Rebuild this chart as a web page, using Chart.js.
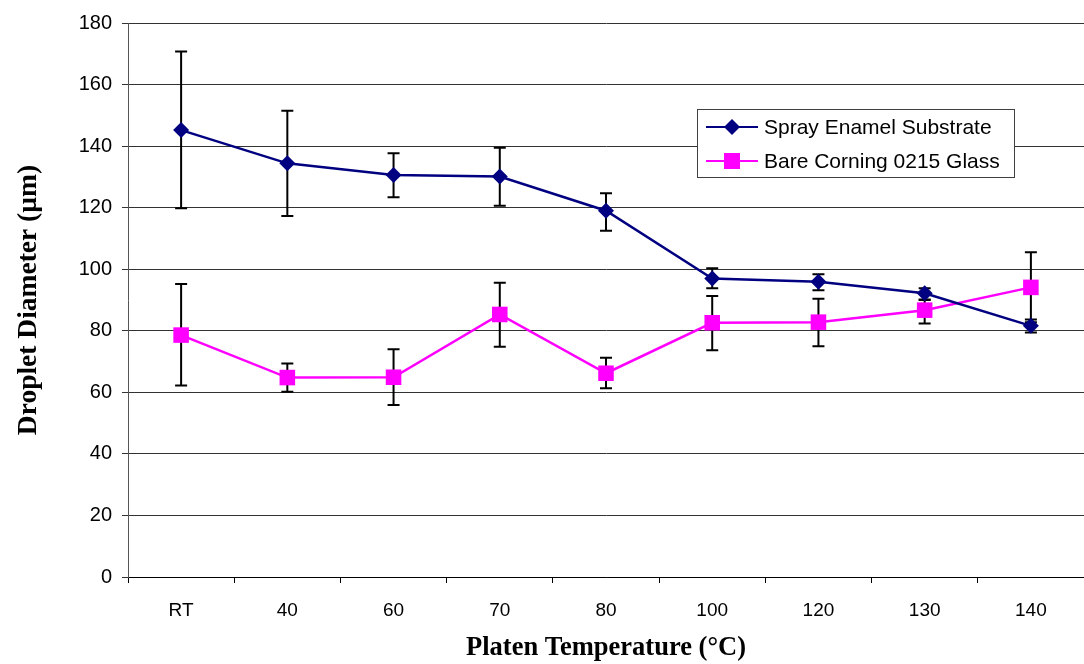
<!DOCTYPE html>
<html>
<head>
<meta charset="utf-8">
<script src="https://cdn.jsdelivr.net/npm/chart.js@4.4.0/dist/chart.umd.min.js"></script>
<style>
  html, body { margin: 0; padding: 0; background: #fff; }
  #wrap { width: 1084px; height: 664px; }
</style>
</head>
<body>
<div id="wrap"><canvas id="chart"></canvas></div>
<script>
// data
const temps = ["RT", "40", "60", "70", "80", "100", "120", "130", "140"];

const enamel = [145.2, 134.4, 130.6, 130.1, 119.0, 97.0, 95.9, 92.2, 81.6];
const enamelHi = [170.7, 151.5, 137.7, 139.5, 124.7, 100.3, 98.4, 93.8, 83.7];
const enamelLo = [119.8, 117.3, 123.4, 120.6, 112.5, 93.8, 93.2, 90.2, 79.4];

const glass = [78.6, 64.8, 64.9, 85.3, 66.2, 82.6, 82.8, 86.7, 94.1];
const glassHi = [95.2, 69.4, 74.0, 95.6, 71.2, 91.3, 90.4, 90.0, 105.5];
const glassLo = [62.2, 60.2, 55.9, 74.8, 61.3, 73.7, 75.0, 82.4, 82.8];

const yTicks = [0, 20, 40, 60, 80, 100, 120, 140, 160, 180];

// error bars, drawn through the chart scales
const errorBars = {
    id: "errorBars",
    beforeDatasetsDraw(chart) {
        const ctx = chart.ctx;
        const x = chart.scales.x;
        const y = chart.scales.y;
        const sets = [[enamelHi, enamelLo], [glassHi, glassLo]];
        ctx.save();
        ctx.strokeStyle = "#000";
        ctx.lineWidth = 2;
        sets.forEach(([hi, lo]) => {
            hi.forEach((h, i) => {
                const px = x.getPixelForValue(i);
                const top = y.getPixelForValue(h);
                const bot = y.getPixelForValue(lo[i]);
                ctx.beginPath();
                ctx.moveTo(px, top);
                ctx.lineTo(px, bot);
                ctx.moveTo(px - 6, top);
                ctx.lineTo(px + 6, top);
                ctx.moveTo(px - 6, bot);
                ctx.lineTo(px + 6, bot);
                ctx.stroke();
            });
        });
        ctx.restore();
    }
};

// legend box inside the plot, like the original
const boxLegend = {
    id: "boxLegend",
    afterDraw(chart) {
        const ctx = chart.ctx;
        const bx = 697, by = 109, bw = 317, bh = 68;
        ctx.save();
        ctx.fillStyle = "#fff";
        ctx.fillRect(bx, by, bw, bh);
        ctx.strokeStyle = "#404040";
        ctx.lineWidth = 1;
        ctx.strokeRect(bx + 0.5, by + 0.5, bw, bh);
        chart.data.datasets.forEach((ds, i) => {
            const ry = 127 + i * 34;
            ctx.strokeStyle = ds.borderColor;
            ctx.lineWidth = 2;
            ctx.beginPath();
            ctx.moveTo(706, ry);
            ctx.lineTo(758, ry);
            ctx.stroke();
            ctx.fillStyle = ds.backgroundColor;
            if (ds.pointStyle === "rectRot") {
                ctx.beginPath();
                ctx.moveTo(732, ry - 8);
                ctx.lineTo(740, ry);
                ctx.lineTo(732, ry + 8);
                ctx.lineTo(724, ry);
                ctx.closePath();
                ctx.fill();
            } else {
                ctx.fillRect(724, ry - 8, 16, 16);
            }
            ctx.fillStyle = "#000";
            ctx.font = "21px 'Liberation Sans', Arial, sans-serif";
            ctx.textBaseline = "middle";
            ctx.fillText(ds.label, 764, ry + 1);
        });
        ctx.restore();
    }
};

const ctx = document.getElementById("chart").getContext("2d");
new Chart(ctx, {
    type: "line",
    data: {
        labels: temps,
        datasets: [
            {
                label: "Spray Enamel Substrate",
                data: enamel,
                borderColor: "#000080",
                backgroundColor: "#000080",
                borderWidth: 2.5,
                pointStyle: "rectRot",
                pointRadius: 8,
                pointBorderWidth: 0,
                tension: 0
            },
            {
                label: "Bare Corning 0215 Glass",
                data: glass,
                borderColor: "#FF00FF",
                backgroundColor: "#FF00FF",
                borderWidth: 2.5,
                pointStyle: "rect",
                pointRadius: 11,
                pointBorderWidth: 0,
                tension: 0
            }
        ]
    },
    options: {
        responsive: true,
        maintainAspectRatio: false,
        animation: false,
        layout: { autoPadding: false, padding: { top: 23, right: 0, left: 0, bottom: 0 } },
        plugins: {
            legend: { display: false },
            tooltip: { enabled: false }
        },
        scales: {
            x: {
                offset: true,
                afterFit: (s) => { s.height = 87; s.paddingLeft = 0; s.paddingRight = 0; },
                grid: {
                    offset: true,
                    drawOnChartArea: false,
                    tickLength: 6,
                    color: "#000"
                },
                border: { color: "#000", width: 1 },
                ticks: {
                    color: "#000",
                    padding: 16,
                    font: { family: "'Liberation Sans', Arial, sans-serif", size: 19 }
                },
                title: {
                    display: true,
                    text: "Platen Temperature (°C)",
                    color: "#000",
                    padding: { top: 0, bottom: 0 },
                    font: { family: "'Liberation Serif', 'Times New Roman', serif", size: 26.5, weight: "bold" }
                }
            },
            y: {
                min: 0,
                max: 180,
                afterFit: (s) => { s.width = 128; },
                afterBuildTicks: (s) => { s.ticks = yTicks.map(v => ({ value: v })); },
                grid: {
                    color: "#333",
                    lineWidth: 1,
                    tickLength: 6
                },
                border: { color: "#555", width: 1 },
                ticks: {
                    color: "#000",
                    padding: 10,
                    font: { family: "'Liberation Sans', Arial, sans-serif", size: 20 }
                },
                title: {
                    display: true,
                    text: "Droplet Diameter (µm)",
                    color: "#000",
                    padding: { top: 12, bottom: 0 },
                    font: { family: "'Liberation Serif', 'Times New Roman', serif", size: 27.5, weight: "bold" }
                }
            }
        }
    },
    plugins: [errorBars, boxLegend]
});
</script>
</body>
</html>
